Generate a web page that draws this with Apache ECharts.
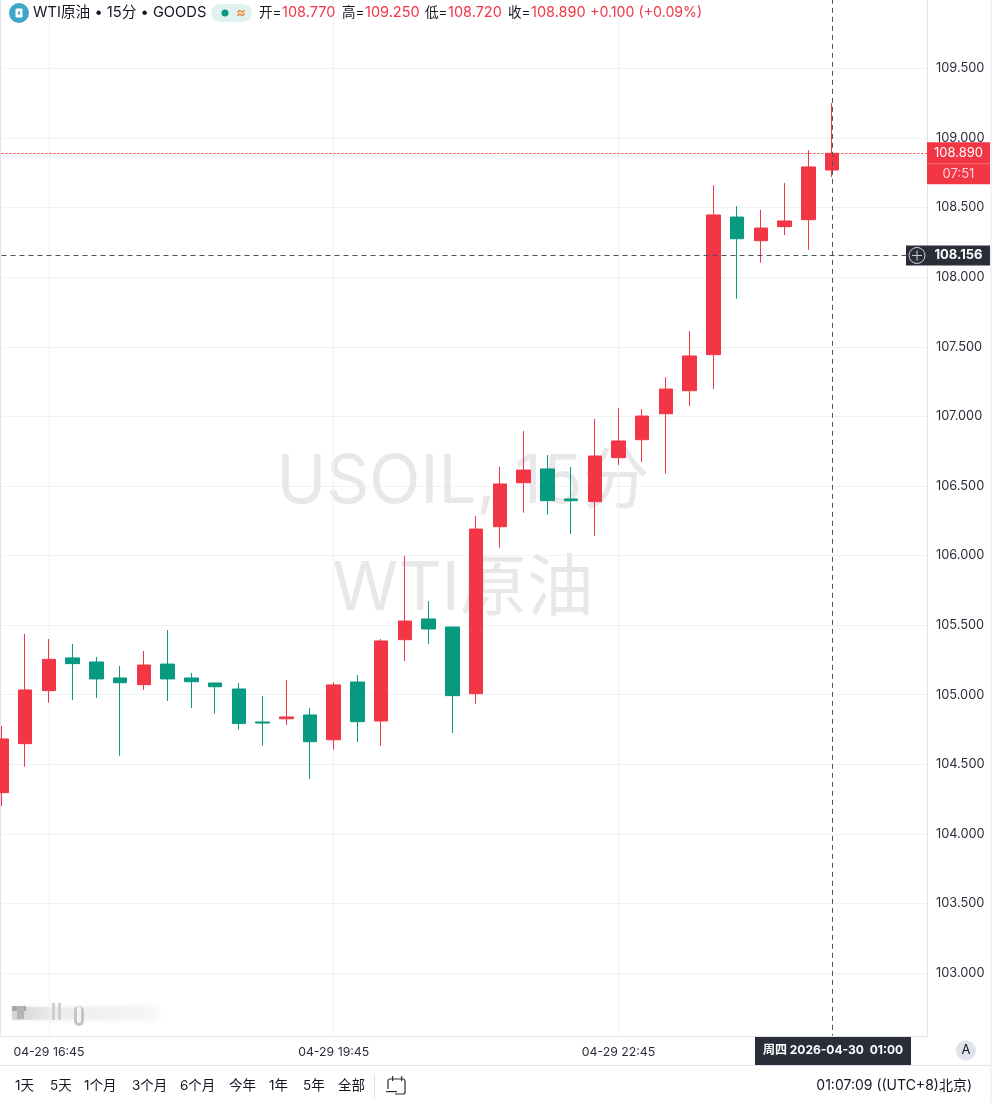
<!DOCTYPE html>
<html>
<head>
<meta charset="utf-8">
<title>WTI原油 15分</title>
<style>
  html, body { margin: 0; padding: 0; background: #fff; }
  #main { width: 992px; height: 1103px; }
</style>
<script src="https://cdn.jsdelivr.net/npm/echarts@6/dist/echarts.min.js"></script>
</head>
<body>
<div id="main"></div>
<script>
// 时间轴
var categories = [
  '04-29 16:15','04-29 16:30','04-29 16:45','04-29 17:00','04-29 17:15','04-29 17:30','04-29 17:45','04-29 18:00',
  '04-29 18:15','04-29 18:30','04-29 18:45','04-29 19:00','04-29 19:15','04-29 19:30','04-29 19:45','04-29 20:00',
  '04-29 20:15','04-29 20:30','04-29 20:45','04-29 21:00','04-29 21:15','04-29 21:30','04-29 21:45','04-29 22:00',
  '04-29 22:15','04-29 22:30','04-29 22:45','04-29 23:00','04-29 23:15','04-29 23:30','04-29 23:45','04-30 00:00',
  '04-30 00:15','04-30 00:30','04-30 00:45','04-30 01:00','04-30 01:15','04-30 01:30','04-30 01:45','04-30 02:00'
];
var labelTimes = ['04-29 16:45', '04-29 19:45', '04-29 22:45'];

// K线数据
var opens  = [104.296,104.648,105.029,105.264,105.235,105.120,105.072,105.220,105.120,105.084,105.041,104.804,104.827,104.854,104.676,105.091,104.811,105.395,105.544,105.486,105.007,106.207,106.523,106.622,106.406,106.387,106.703,106.832,107.019,107.184,107.443,108.432,108.262,108.363,108.413,108.770];
var closes = [104.682,105.034,105.254,105.223,105.113,105.086,105.213,105.113,105.093,105.057,104.792,104.796,104.840,104.662,105.070,104.806,105.386,105.529,105.472,104.993,106.190,106.514,106.614,106.394,106.394,106.715,106.823,107.002,107.196,107.434,108.447,108.276,108.353,108.404,108.792,108.890];
var lows   = [104.200,104.482,104.942,104.962,104.976,104.561,105.034,104.955,104.904,104.863,104.748,104.633,104.782,104.394,104.605,104.660,104.633,105.242,105.364,104.725,104.935,106.056,106.308,106.293,106.155,106.142,106.650,106.672,106.588,107.074,107.196,107.845,108.104,108.303,108.197,108.720];
var highs  = [104.775,105.436,105.400,105.364,105.271,105.206,105.314,105.465,105.156,105.084,105.084,104.990,105.105,104.904,105.089,105.141,105.400,105.996,105.673,105.486,106.284,106.638,106.895,106.722,106.636,106.981,107.058,107.051,107.281,107.613,108.660,108.511,108.483,108.677,108.912,109.250];

var lastClose = 108.890;
var crossPrice = 108.156;
var crossTime = '04-30 01:00';
var countdown = '07:51';
var crossLabel = '周四 2026-04-30  01:00';

// 顶部与底部文字
var ohlcTexts = [['开=','108.770',259],['高=','109.250',342],['低=','108.720',425],['收=','108.890',508]];
var ranges = [['1天',15],['5天',50],['1个月',84],['3个月',132],['6个月',180],['今年',229],['1年',269],['5年',303],['全部',338]];

var upColor = '#f23645', downColor = '#089981', gridColor = '#f1f2f4', lineColor = '#e0e3eb', textColor = '#131722', darkTag = '#2a2e39';
var fontName = 'Inter, "Noto Sans CJK SC", sans-serif';

var candles = [];
for (var i = 0; i < opens.length; i++) {
  candles.push([opens[i], closes[i], lows[i], highs[i]]);
}

var gridLines = [];
labelTimes.forEach(function (t) {
  gridLines.push([{ xAxis: t, yAxis: 102.55 }, { xAxis: t, yAxis: 110 }]);
});

var chart = echarts.init(document.getElementById('main'));

chart.setOption({
  animation: false,
  backgroundColor: '#fff',
  grid: { outerBoundsMode: 'none', left: 1.5, right: 65, top: -1.17, bottom: 60.4 },
  xAxis: {
    type: 'category',
    data: categories,
    boundaryGap: false,
    offset: -6.6,
    z: 3,
    axisLine: { lineStyle: { color: lineColor } },
    axisTick: { show: false },
    splitLine: { show: false },
    axisLabel: {
      color: '#2a2e39',
      fontSize: 12.3,
      fontFamily: fontName,
      margin: 10,
      interval: function (idx, val) { return labelTimes.indexOf(val) >= 0; }
    }
  },
  yAxis: {
    type: 'value',
    position: 'right',
    min: 102.5,
    max: 110,
    interval: 0.5,
    axisLine: { show: true, lineStyle: { color: lineColor } },
    axisTick: { show: false },
    splitLine: { show: true, lineStyle: { color: gridColor } },
    axisLabel: {
      color: '#2a2e39',
      fontSize: 12.8,
      fontFamily: fontName,
      margin: 9,
      padding: [2, 0, 0, 0],
      showMinLabel: false,
      showMaxLabel: false,
      formatter: function (v) { return v.toFixed(3); }
    }
  },
  series: [
    {
      type: 'candlestick',
      data: candles,
      barWidth: 14,
      clip: false,
      itemStyle: { color: upColor, color0: downColor, borderColor: upColor, borderColor0: downColor, borderWidth: 1 },
      markLine: {
        silent: true, symbol: 'none', z: 1, animation: false,
        label: { show: false },
        lineStyle: { color: gridColor, width: 1, type: 'solid' },
        data: gridLines
      }
    },
    {
      type: 'line',
      data: [],
      markLine: {
        silent: true, symbol: 'none', z: 5, animation: false,
        label: { show: false },
        data: [
          { yAxis: lastClose, lineStyle: { color: upColor, width: 1, type: [2, 2] } },
          { yAxis: crossPrice, lineStyle: { color: '#50535e', width: 1, type: [5, 4] } },
          [
            { xAxis: crossTime, yAxis: 110, lineStyle: { color: '#50535e', width: 1, type: [5, 4] } },
            { xAxis: crossTime, yAxis: 102.55 }
          ]
        ]
      }
    }
  ]
});

function txt(s, x, y, size, color, align, weight) {
  return {
    type: 'text', z: 21, silent: true, x: x, y: y,
    style: { text: s, fill: color, fontSize: size, fontFamily: fontName, fontWeight: weight || 'normal', align: align || 'left', verticalAlign: 'middle' }
  };
}
function box(x, y, w, h, color, z, r) {
  return { type: 'rect', z: z === undefined ? 20 : z, silent: true, shape: { x: x, y: y, width: w, height: h, r: r || 0 }, style: { fill: color } };
}

var lastY = chart.convertToPixel({ yAxisIndex: 0 }, lastClose);
var crossY = chart.convertToPixel({ yAxisIndex: 0 }, crossPrice);

var els = [];

// 水印
els.push({ type: 'text', z: 0, silent: true, x: 463, y: 483, style: { text: 'USOIL, 15分', fill: '#e8e8ea', fontSize: 67, fontFamily: fontName, align: 'center', verticalAlign: 'middle' } });
els.push({ type: 'text', z: 0, silent: true, x: 463, y: 590, style: { text: 'WTI原油', fill: '#e8e8ea', fontSize: 67, fontFamily: fontName, align: 'center', verticalAlign: 'middle' } });

// 模糊的角标
els.push({ type: 'rect', z: 0, silent: true, shape: { x: 12, y: 1007, width: 146, height: 13 }, style: { opacity: 0.55, fill: new echarts.graphic.LinearGradient(0, 0, 1, 0, [{ offset: 0, color: '#bdbdbd' }, { offset: 0.3, color: '#ececec' }, { offset: 1, color: '#ffffff' }]), shadowBlur: 4, shadowColor: '#ddd' } });
els.push(box(12, 1006, 14, 5, '#a8a8a8', 0));
els.push(box(17, 1006, 7, 13, '#b5b5b5', 0));
els.push(box(52, 1003, 3, 17, '#cfcfcf', 0));
els.push(box(58, 1003, 3, 17, '#cfcfcf', 0));
els.push(box(74, 1006, 10, 20, '#c4c4c4', 0, 5));
els.push(box(77, 1006, 4, 17, '#f4f4f4', 0, 2));

// 底部白底与边线
els.push(box(0, 1036.5, 992, 66.5, '#fff', 1));
els.push(box(0, 1065, 992, 1, lineColor, 2));
els.push(box(0, 0, 1, 1036, lineColor, 2));
els.push(box(990, 0, 2, 1103, '#f2f3f7', 2));

// 现价标签
els.push(box(927, lastY - 11, 63, 42, upColor, 20));
els.push(box(927, lastY + 10, 63, 1, '#f7727e', 21));
els.push(txt(lastClose.toFixed(3), 958.5, lastY, 13, '#fff', 'center'));
els.push(txt(countdown, 958.5, lastY + 21, 13, '#ffd5d9', 'center'));

// 十字光标标签
els.push(box(906, crossY - 10, 84, 20, darkTag, 20));
els.push({ type: 'circle', z: 21, silent: true, shape: { cx: 917, cy: crossY, r: 8 }, style: { fill: 'none', stroke: '#d1d4dc', lineWidth: 1 } });
els.push(box(912, crossY - 0.5, 10, 1, '#d1d4dc', 21));
els.push(box(916.5, crossY - 5, 1, 10, '#d1d4dc', 21));
els.push(txt(crossPrice.toFixed(3), 958.5, crossY, 13, '#fff', 'center', 'bold'));
els.push(box(755, 1037, 156, 28, darkTag, 20));
els.push(txt(crossLabel, 833, 1050, 12, '#fff', 'center', 'bold'));

// 右下角
els.push({ type: 'circle', z: 20, silent: true, shape: { cx: 966, cy: 1050.5, r: 10 }, style: { fill: lineColor } });
els.push(txt('A', 966, 1050.5, 13, '#131722', 'center'));
els.push(txt('01:07:09 ((UTC+8)北京)', 972, 1086, 14, textColor, 'right'));

// 时间范围按钮
ranges.forEach(function (r) {
  els.push(txt(r[0], r[1], 1086, 13.5, textColor));
});
els.push(box(374, 1074, 1, 24, lineColor, 20));
els.push({ type: 'rect', z: 21, silent: true, shape: { x: 388, y: 1079, width: 17, height: 15, r: 2 }, style: { fill: 'none', stroke: '#2a2e39', lineWidth: 1.2 } });
els.push(box(386, 1089, 9, 6, '#fff', 21));
els.push(box(386, 1091, 11, 1.2, '#2a2e39', 22));
els.push(box(392, 1076, 1.2, 5, '#2a2e39', 22));
els.push(box(401, 1076, 1.2, 5, '#2a2e39', 22));

// 顶部标题
els.push({ type: 'circle', z: 20, silent: true, shape: { cx: 19, cy: 13, r: 10 }, style: { fill: '#3ea6c6' } });
els.push(box(15.5, 8.5, 7, 9, '#fff', 21, 1));
els.push(box(18, 11.5, 2, 3, '#3ea6c6', 22));
els.push(txt('WTI原油 • 15分 • GOODS', 33, 13, 14.7, textColor));
els.push(box(211, 4, 41, 18, '#e0f2ef', 20, 9));
els.push({ type: 'circle', z: 21, silent: true, shape: { cx: 225, cy: 13, r: 3.5 }, style: { fill: '#089981' } });
els.push(txt('≈', 241, 13, 14, '#ef8c3c', 'center', 'bold'));
ohlcTexts.forEach(function (o) {
  els.push(txt(o[0], o[2], 13, 13.5, textColor));
  els.push(txt(o[1], o[2] + 23, 13, 14.5, upColor));
});
els.push(txt('+0.100 (+0.09%)', 590, 13, 14.2, upColor));

chart.setOption({ graphic: { elements: els } });
</script>
</body>
</html>
